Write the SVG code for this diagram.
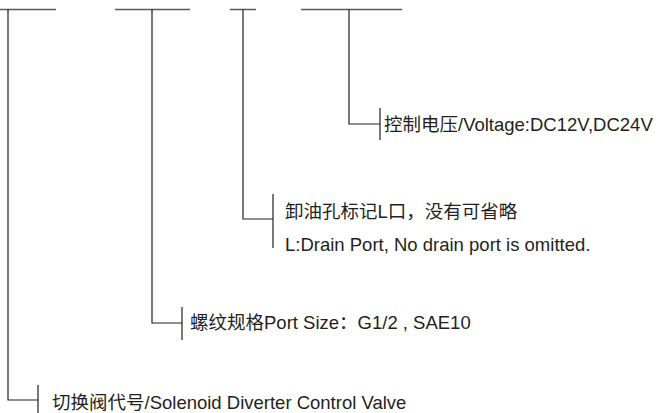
<svg xmlns="http://www.w3.org/2000/svg" width="660" height="413" viewBox="0 0 660 413">
<style>
.ln{stroke:#231f20;stroke-width:1.2;fill:none}
.bar{stroke:#5a5a5a;stroke-width:1.5;fill:none}
.t{font-family:"Liberation Sans","Noto Sans CJK SC",sans-serif;font-size:18.5px;fill:#231f20}
</style>
<rect width="660" height="413" fill="#fff"/>
<g id="connectors">
<path class="bar" d="M0 9.5H56M115 9.5H190M230 9.5H256M301 9.5H402"/>
<path class="ln" d="M8 9.5V400H38M38 385V413"/>
<path class="ln" d="M152 9.5V323H182M182 307V340"/>
<path class="ln" d="M243 9.5V219H273M273 194V248"/>
<path class="ln" d="M349 9.5V124H380M380 108V140"/>
</g>
<g id="node-voltage"><text class="t" x="384" y="131">控制电压/Voltage:DC12V,DC24V</text></g>
<g id="node-drain"><text class="t" x="285" y="218">卸油孔标记L口，没有可省略</text><text class="t" x="285" y="251">L:Drain Port, No drain port is omitted.</text></g>
<g id="node-port"><text class="t" x="190" y="329">螺纹规格Port Size：G1/2 , SAE10</text></g>
<g id="node-valve"><text class="t" x="52" y="409">切换阀代号/Solenoid Diverter Control Valve</text></g>
</svg>
